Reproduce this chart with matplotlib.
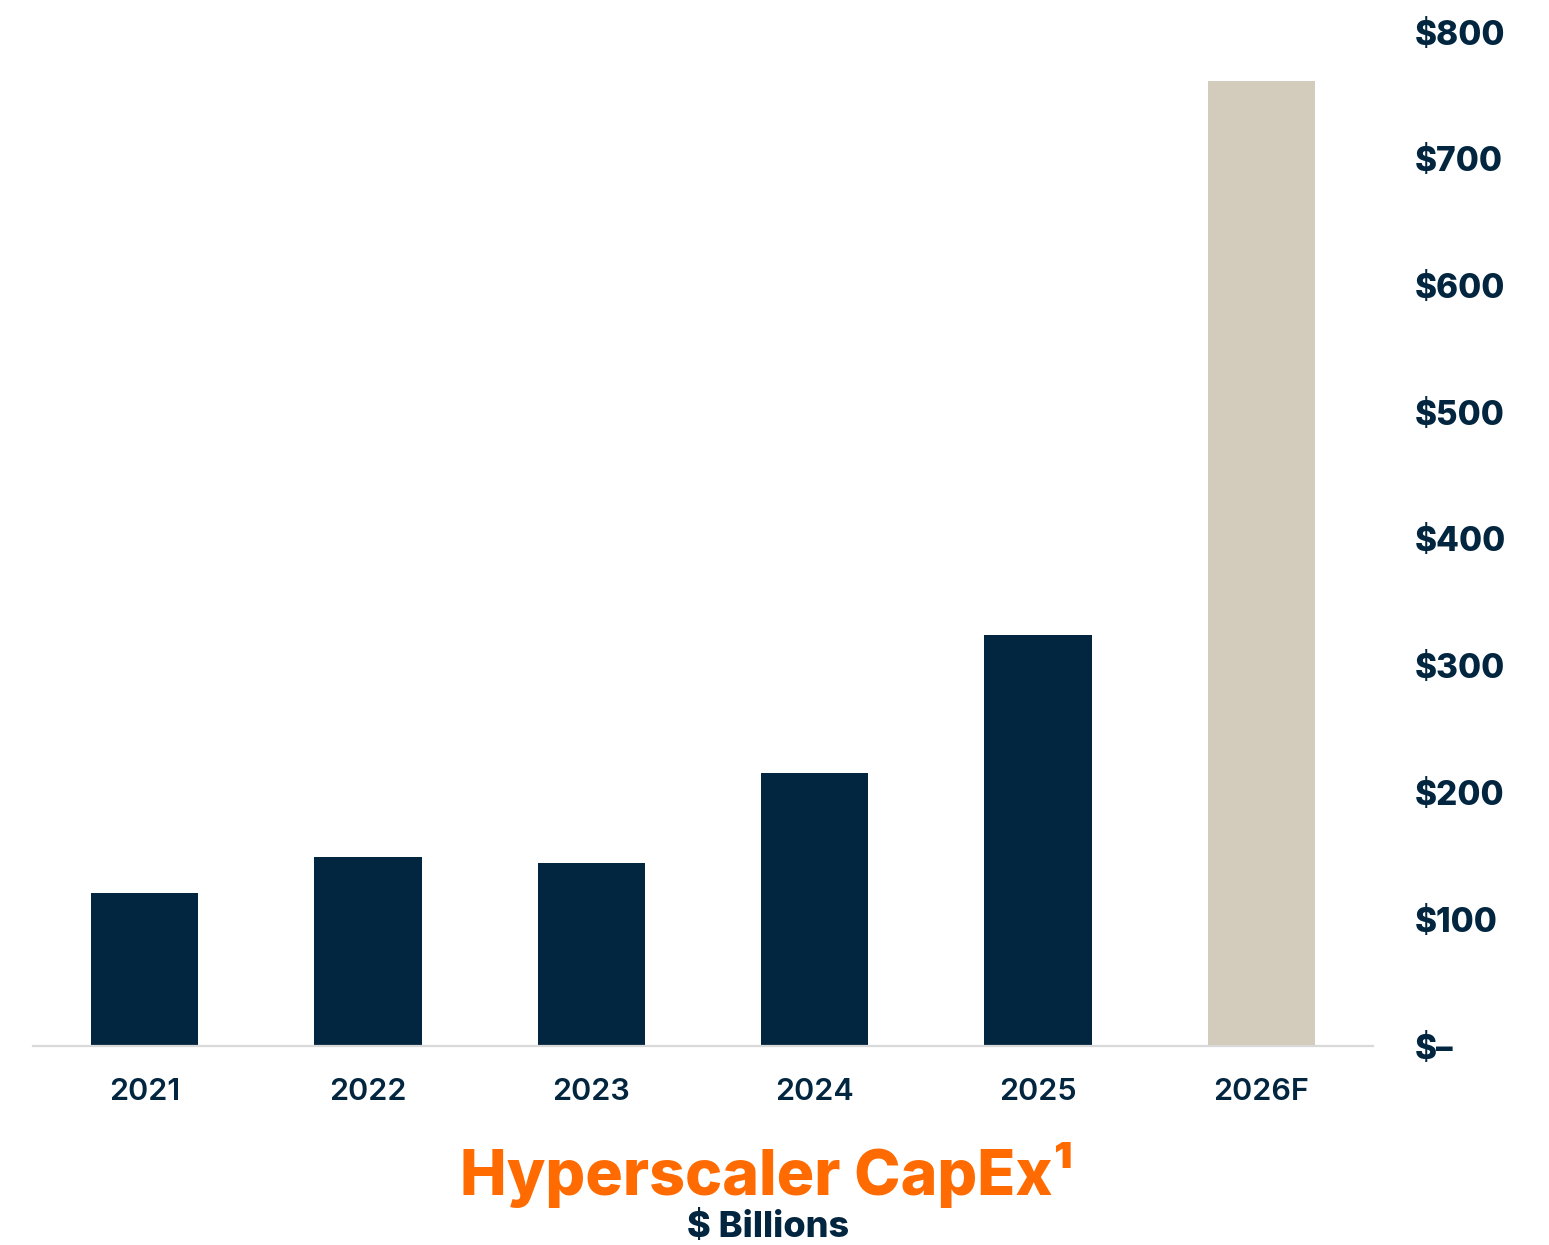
import matplotlib
matplotlib.use("Agg")
import matplotlib.pyplot as plt

years = ["2021", "2022", "2023", "2024", "2025", "2026F"]
capex = [121, 149, 144, 215, 324, 761]
bar_colors = ["#02263F", "#02263F", "#02263F", "#02263F", "#02263F", "#D3CBBC"]
yticks = [0, 100, 200, 300, 400, 500, 600, 700, 800]
ytick_labels = ["$–", "$100", "$200", "$300", "$400", "$500", "$600", "$700", "$800"]

navy = "#02263F"
fig = plt.figure(figsize=(15.49, 12.45), dpi=100)
ax = fig.add_axes([33/1549, 1 - 1046/1245, (1373-33)/1549, (1046-32)/1245])

x = list(range(len(years)))
ax.bar(x, capex, width=0.48, color=bar_colors, zorder=2)
ax.set_xlim(-0.5, 5.5)
ax.set_ylim(0, 800)

for s in ["top", "left", "right"]:
    ax.spines[s].set_visible(False)
ax.spines["bottom"].set_color("#d9d9d9")
ax.spines["bottom"].set_linewidth(1.6)
ax.spines["bottom"].set_zorder(3)

ax.set_xticks(x)
ax.set_xticklabels(years, fontfamily="Inter", fontsize=22, fontweight="semibold", color=navy)
ax.tick_params(axis="x", length=0, pad=23)

ax.yaxis.tick_right()
ax.set_yticks(yticks)
ax.set_yticklabels(ytick_labels, fontfamily="Inter", fontsize=24, fontweight="heavy", color=navy)
ax.tick_params(axis="y", length=0, pad=30)
for lbl in ax.get_yticklabels():
    lbl.set_horizontalalignment("left")

fig.text(767/1549, 1 - 1175/1245, "Hyperscaler CapEx¹", ha="center", va="center",
         fontfamily="Inter", fontsize=45, fontweight="heavy", color="#FF6B00")
fig.text(768/1549, 1 - 1227/1245, "$ Billions", ha="center", va="center",
         fontfamily="Inter", fontsize=26, fontweight="heavy", color=navy)

fig.savefig("out.png", dpi=100)
